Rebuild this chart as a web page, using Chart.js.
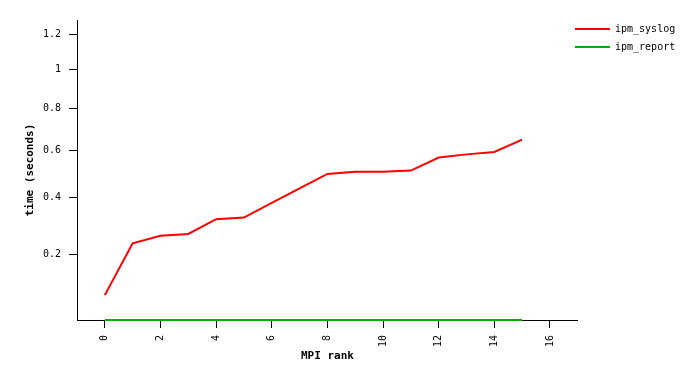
<!DOCTYPE html>
<html>
<head>
<meta charset="utf-8">
<script src="https://cdn.jsdelivr.net/npm/chart.js@4.4.1/dist/chart.umd.min.js"></script>
<style>
  body { margin: 0; background: #fff; }
</style>
</head>
<body>
<canvas id="graficoTempo" width="697" height="381"></canvas>
<script>
// Dados: tempo por rank MPI
const ranks = [0, 1, 2, 3, 4, 5, 6, 7, 8, 9, 10, 11, 12, 13, 14, 15];
const tempoSyslog = [0.090, 0.236, 0.261, 0.267, 0.319, 0.325, 0.380, 0.437, 0.497, 0.506, 0.506, 0.511, 0.568, 0.582, 0.593, 0.649];
const tempoReport = [0, 0, 0, 0, 0, 0, 0, 0, 0, 0, 0, 0, 0, 0, 0, 0];
const ticksX = [0, 2, 4, 6, 8, 10, 12, 14, 16];
const ticksY = [0.2, 0.4, 0.6, 0.8, 1, 1.2];

// Escala em potência (o eixo y original não é linear nem logarítmico)
const EXPOENTE = 0.65;
class PowerScale extends Chart.LinearScale {
    getPixelForValue(value) {
        const lo = Math.pow(this.min, EXPOENTE);
        const hi = Math.pow(this.max, EXPOENTE);
        const v = Math.pow(Math.max(value, this.min), EXPOENTE);
        return this.getPixelForDecimal((v - lo) / (hi - lo));
    }
    getValueForPixel(pixel) {
        const lo = Math.pow(this.min, EXPOENTE);
        const hi = Math.pow(this.max, EXPOENTE);
        const d = this.getDecimalForPixel(pixel);
        return Math.pow(lo + d * (hi - lo), 1 / EXPOENTE);
    }
}
PowerScale.id = 'power';
PowerScale.defaults = Chart.LinearScale.defaults;
Chart.register(PowerScale);

Chart.defaults.font.family = "'DejaVu Sans Mono', monospace";
Chart.defaults.font.size = 10;
Chart.defaults.color = '#000';

// Legenda um pouco sobre a borda direita do gráfico, como no original
const posicaoLegenda = {
    id: 'posicaoLegenda',
    afterLayout(chart) {
        chart.legend.left = 567;
        chart.legend.top = 16;
    }
};

const dataTempo = {
    datasets: [
        {
            label: 'ipm_syslog',
            data: ranks.map((r, i) => ({ x: r, y: tempoSyslog[i] })),
            borderColor: '#ff0000',
            backgroundColor: '#ff0000',
            borderWidth: 2,
            clip: 2,
        },
        {
            label: 'ipm_report',
            data: ranks.map((r, i) => ({ x: r, y: tempoReport[i] })),
            borderColor: '#00b000',
            backgroundColor: '#00b000',
            borderWidth: 2,
            clip: 2,
        }
    ]
};

const configTempo = {
    type: 'line',
    data: dataTempo,
    options: {
        responsive: false,
        animation: false,
        layout: { padding: { top: 20, right: 1, bottom: 0, left: 0 } },
        elements: {
            line: { tension: 0, fill: false },
            point: { radius: 0, hoverRadius: 0 }
        },
        plugins: {
            tooltip: { enabled: false },
            legend: {
                position: 'right',
                align: 'start',
                labels: {
                    usePointStyle: true,
                    pointStyle: 'line',
                    pointStyleWidth: 35,
                    boxHeight: 10,
                    padding: 8,
                    color: '#000',
                    font: { size: 10 }
                }
            }
        },
        scales: {
            x: {
                type: 'linear',
                min: -1,
                max: 17,
                afterBuildTicks: s => { s.ticks = ticksX.map(v => ({ value: v })); },
                afterFit: s => { s.height = 61; },
                grid: { drawOnChartArea: false, tickLength: 8, color: '#000' },
                border: { color: '#000' },
                ticks: { minRotation: 90, maxRotation: 90, padding: 7, autoSkip: false },
                title: {
                    display: true,
                    text: 'MPI rank',
                    font: { size: 11, weight: 'bold' },
                    padding: { top: 0, bottom: 18 }
                }
            },
            y: {
                type: 'power',
                min: 0.0392,
                max: 1.282,
                bounds: 'data',
                afterBuildTicks: s => { s.ticks = ticksY.map(v => ({ value: v })); },
                afterFit: s => { s.width = 77; },
                grid: { drawOnChartArea: false, tickLength: 8, color: '#000' },
                border: { color: '#000' },
                ticks: { padding: 8, callback: v => String(v) },
                title: {
                    display: true,
                    text: 'time (seconds)',
                    font: { size: 11, weight: 'bold' },
                    padding: { top: 24, bottom: 0 }
                }
            }
        }
    },
    plugins: [posicaoLegenda]
};

new Chart(document.getElementById('graficoTempo'), configTempo);
</script>
</body>
</html>
